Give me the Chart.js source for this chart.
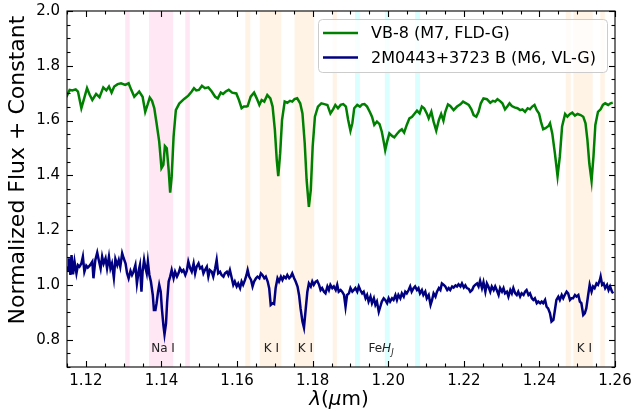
<!DOCTYPE html>
<html>
<head>
<meta charset="utf-8">
<script src="https://cdn.jsdelivr.net/npm/chart.js@4"></script>
<style>
  html, body { margin: 0; padding: 0; background: #fff; }
</style>
</head>
<body>
<canvas id="spec" width="636" height="414"></canvas>
<script>
// VB-8 (field dwarf) spectrum, offset by +0.6
const vb8Wave = [
  1.1148, 1.1157, 1.1164, 1.1173, 1.1179, 1.1188, 1.1196, 1.1203, 1.1210, 1.1217,
  1.1227, 1.1236, 1.1246, 1.1254, 1.1261, 1.1268, 1.1275, 1.1284, 1.1293, 1.1304,
  1.1313, 1.1320, 1.1328, 1.1335, 1.1341, 1.1350, 1.1357, 1.1363, 1.1369, 1.1375,
  1.1381, 1.1387, 1.1394, 1.1400, 1.1405, 1.1409, 1.1414, 1.1419, 1.1423, 1.1427,
  1.1432, 1.1438, 1.1447, 1.1460, 1.1471, 1.1480, 1.1486, 1.1492, 1.1499, 1.1507,
  1.1515, 1.1524, 1.1533, 1.1542, 1.1549, 1.1557, 1.1563, 1.1570, 1.1578, 1.1587,
  1.1598, 1.1605, 1.1612, 1.1618, 1.1625, 1.1628, 1.1636, 1.1645, 1.1652, 1.1659,
  1.1665, 1.1672, 1.1680, 1.1688, 1.1694, 1.1700, 1.1705, 1.1709, 1.1714, 1.1719,
  1.1726, 1.1733, 1.1740, 1.1746, 1.1752, 1.1759, 1.1767, 1.1773, 1.1779, 1.1784,
  1.1790, 1.1795, 1.1800, 1.1806, 1.1814, 1.1823, 1.1831, 1.1839, 1.1847, 1.1854,
  1.1860, 1.1867, 1.1874, 1.1881, 1.1888, 1.1894, 1.1900, 1.1905, 1.1910, 1.1918,
  1.1925, 1.1931, 1.1937, 1.1944, 1.1951, 1.1957, 1.1963, 1.1970, 1.1977, 1.1983,
  1.1988, 1.1992, 1.1997, 1.2003, 1.2010, 1.2016, 1.2023, 1.2030, 1.2036, 1.2042,
  1.2049, 1.2056, 1.2063, 1.2070, 1.2076, 1.2083, 1.2089, 1.2095, 1.2102, 1.2107,
  1.2114, 1.2120, 1.2127, 1.2134, 1.2140, 1.2146, 1.2151, 1.2158, 1.2164, 1.2173,
  1.2182, 1.2191, 1.2198, 1.2206, 1.2213, 1.2220, 1.2226, 1.2233, 1.2239, 1.2245,
  1.2252, 1.2261, 1.2270, 1.2277, 1.2283, 1.2289, 1.2296, 1.2302, 1.2309, 1.2315,
  1.2321, 1.2327, 1.2334, 1.2342, 1.2349, 1.2355, 1.2362, 1.2369, 1.2375, 1.2381,
  1.2387, 1.2393, 1.2399, 1.2404, 1.2410, 1.2416, 1.2424, 1.2428, 1.2434, 1.2441,
  1.2448, 1.2454, 1.2460, 1.2468, 1.2474, 1.2481, 1.2487, 1.2494, 1.2501, 1.2509,
  1.2516, 1.2522, 1.2527, 1.2532, 1.2538, 1.2543, 1.2548, 1.2555, 1.2562, 1.2568,
  1.2574, 1.2582, 1.2588, 1.2594
];
const vb8Flux = [
  1.685, 1.712, 1.710, 1.714, 1.706, 1.645, 1.684, 1.718, 1.694, 1.675,
  1.697, 1.685, 1.721, 1.710, 1.724, 1.702, 1.724, 1.733, 1.736, 1.730,
  1.736, 1.712, 1.687, 1.697, 1.706, 1.687, 1.632, 1.657, 1.684, 1.672,
  1.645, 1.590, 1.523, 1.426, 1.438, 1.507, 1.499, 1.419, 1.337, 1.395,
  1.541, 1.638, 1.662, 1.679, 1.691, 1.706, 1.718, 1.710, 1.712, 1.727,
  1.718, 1.721, 1.706, 1.687, 1.681, 1.702, 1.697, 1.706, 1.712, 1.702,
  1.699, 1.675, 1.645, 1.651, 1.651, 1.653, 1.687, 1.702, 1.681, 1.657,
  1.675, 1.669, 1.693, 1.681, 1.651, 1.566, 1.456, 1.397, 1.480, 1.602,
  1.669, 1.665, 1.672, 1.669, 1.678, 1.681, 1.663, 1.626, 1.517, 1.383,
  1.285, 1.346, 1.504, 1.614, 1.651, 1.663, 1.660, 1.657, 1.626, 1.641,
  1.657, 1.645, 1.657, 1.660, 1.651, 1.602, 1.563, 1.590, 1.645, 1.657,
  1.651, 1.659, 1.660, 1.651, 1.632, 1.614, 1.584, 1.596, 1.587, 1.559,
  1.523, 1.492, 1.523, 1.553, 1.544, 1.539, 1.551, 1.562, 1.568, 1.556,
  1.584, 1.608, 1.614, 1.626, 1.636, 1.626, 1.651, 1.645, 1.626, 1.608,
  1.632, 1.596, 1.563, 1.602, 1.624, 1.599, 1.632, 1.659, 1.653, 1.638,
  1.651, 1.659, 1.669, 1.663, 1.657, 1.641, 1.620, 1.614, 1.632, 1.663,
  1.681, 1.678, 1.665, 1.672, 1.669, 1.678, 1.671, 1.663, 1.641, 1.651,
  1.663, 1.653, 1.648, 1.645, 1.638, 1.641, 1.632, 1.645, 1.641, 1.651,
  1.657, 1.638, 1.626, 1.596, 1.568, 1.572, 1.580, 1.590, 1.553, 1.480,
  1.397, 1.468, 1.578, 1.624, 1.614, 1.624, 1.629, 1.618, 1.624, 1.620,
  1.614, 1.590, 1.529, 1.444, 1.380, 1.468, 1.584, 1.632, 1.641, 1.657,
  1.663, 1.657, 1.663, 1.665
];

// 2M0443+3723 B (young, low gravity) spectrum
const m0443Wave = [
  1.1148, 1.1153, 1.1155, 1.1159, 1.1162, 1.1166, 1.1170, 1.1175, 1.1179, 1.1183,
  1.1188, 1.1192, 1.1196, 1.1201, 1.1205, 1.1211, 1.1217, 1.1220, 1.1225, 1.1230,
  1.1234, 1.1239, 1.1243, 1.1247, 1.1252, 1.1256, 1.1261, 1.1265, 1.1269, 1.1274,
  1.1278, 1.1283, 1.1287, 1.1291, 1.1296, 1.1300, 1.1305, 1.1309, 1.1313, 1.1318,
  1.1322, 1.1326, 1.1331, 1.1335, 1.1340, 1.1343, 1.1347, 1.1350, 1.1354, 1.1357,
  1.1361, 1.1364, 1.1368, 1.1372, 1.1377, 1.1380, 1.1384, 1.1387, 1.1391, 1.1394,
  1.1398, 1.1401, 1.1405, 1.1408, 1.1412, 1.1415, 1.1419, 1.1423, 1.1427, 1.1432,
  1.1436, 1.1441, 1.1445, 1.1449, 1.1454, 1.1458, 1.1463, 1.1467, 1.1471, 1.1476,
  1.1480, 1.1485, 1.1489, 1.1493, 1.1498, 1.1502, 1.1507, 1.1511, 1.1515, 1.1520,
  1.1524, 1.1528, 1.1533, 1.1537, 1.1542, 1.1546, 1.1550, 1.1555, 1.1559, 1.1564,
  1.1568, 1.1573, 1.1577, 1.1581, 1.1586, 1.1590, 1.1594, 1.1599, 1.1603, 1.1608,
  1.1612, 1.1616, 1.1621, 1.1625, 1.1628, 1.1632, 1.1637, 1.1641, 1.1645, 1.1650,
  1.1654, 1.1659, 1.1663, 1.1667, 1.1672, 1.1676, 1.1681, 1.1685, 1.1689, 1.1694,
  1.1698, 1.1702, 1.1707, 1.1711, 1.1716, 1.1720, 1.1724, 1.1729, 1.1733, 1.1738,
  1.1742, 1.1746, 1.1751, 1.1755, 1.1760, 1.1764, 1.1768, 1.1773, 1.1777, 1.1781,
  1.1786, 1.1790, 1.1795, 1.1799, 1.1803, 1.1808, 1.1812, 1.1817, 1.1821, 1.1825,
  1.1830, 1.1834, 1.1839, 1.1843, 1.1847, 1.1852, 1.1856, 1.1861, 1.1865, 1.1869,
  1.1874, 1.1878, 1.1883, 1.1887, 1.1891, 1.1896, 1.1900, 1.1905, 1.1909, 1.1913,
  1.1918, 1.1922, 1.1926, 1.1931, 1.1935, 1.1940, 1.1944, 1.1948, 1.1953, 1.1957,
  1.1962, 1.1966, 1.1970, 1.1975, 1.1979, 1.1983, 1.1988, 1.1992, 1.1997, 1.2001,
  1.2005, 1.2010, 1.2014, 1.2019, 1.2023, 1.2027, 1.2032, 1.2036, 1.2041, 1.2045,
  1.2049, 1.2054, 1.2058, 1.2062, 1.2067, 1.2071, 1.2076, 1.2080, 1.2084, 1.2089,
  1.2093, 1.2098, 1.2102, 1.2107, 1.2112, 1.2116, 1.2120, 1.2125, 1.2129, 1.2134,
  1.2138, 1.2142, 1.2147, 1.2151, 1.2156, 1.2160, 1.2164, 1.2169, 1.2173, 1.2178,
  1.2182, 1.2186, 1.2191, 1.2195, 1.2200, 1.2204, 1.2208, 1.2213, 1.2217, 1.2222,
  1.2226, 1.2230, 1.2235, 1.2239, 1.2243, 1.2248, 1.2252, 1.2257, 1.2261, 1.2265,
  1.2270, 1.2274, 1.2279, 1.2283, 1.2287, 1.2292, 1.2296, 1.2301, 1.2305, 1.2309,
  1.2314, 1.2318, 1.2323, 1.2327, 1.2331, 1.2336, 1.2340, 1.2344, 1.2349, 1.2353,
  1.2358, 1.2362, 1.2366, 1.2371, 1.2375, 1.2380, 1.2384, 1.2388, 1.2393, 1.2397,
  1.2402, 1.2406, 1.2410, 1.2415, 1.2419, 1.2423, 1.2428, 1.2432, 1.2437, 1.2441,
  1.2445, 1.2450, 1.2454, 1.2459, 1.2463, 1.2467, 1.2472, 1.2476, 1.2481, 1.2485,
  1.2489, 1.2494, 1.2498, 1.2503, 1.2507, 1.2511, 1.2516, 1.2520, 1.2524, 1.2529,
  1.2533, 1.2538, 1.2542, 1.2546, 1.2551, 1.2555, 1.2560, 1.2562, 1.2566, 1.2570,
  1.2574, 1.2579, 1.2583, 1.2587, 1.2592, 1.2595
];
const m0443Flux = [
  1.066, 1.054, 1.097, 1.036, 1.109, 1.038, 1.085, 1.042, 1.072, 1.066,
  1.078, 1.103, 1.048, 1.070, 1.063, 1.072, 1.085, 1.024, 1.091, 1.118,
  1.091, 1.060, 1.103, 1.078, 1.097, 1.060, 1.103, 1.060, 1.078, 1.026,
  1.094, 1.072, 1.091, 1.066, 1.115, 1.097, 1.078, 1.042, 1.024, 1.051,
  1.036, 1.048, 1.072, 1.005, 1.054, 1.072, 0.975, 1.048, 1.091, 1.066,
  1.042, 1.085, 1.036, 1.012, 0.963, 0.908, 0.908, 0.933, 0.975, 1.000,
  0.975, 0.914, 0.853, 0.819, 0.859, 0.939, 1.012, 1.030, 1.054, 1.024,
  1.048, 1.030, 1.042, 1.060, 1.048, 1.054, 1.036, 1.051, 1.085, 1.060,
  1.048, 1.078, 1.042, 1.066, 1.078, 1.060, 1.066, 1.042, 1.054, 1.066,
  1.030, 1.054, 1.048, 1.030, 1.060, 1.091, 1.042, 1.048, 1.036, 1.030,
  1.042, 1.048, 1.036, 1.054, 1.024, 1.000, 1.012, 0.994, 1.005, 0.988,
  1.012, 1.000, 1.018, 1.036, 1.054, 1.030, 1.018, 0.994, 1.012, 1.024,
  1.030, 1.024, 1.042, 1.036, 1.024, 1.030, 1.012, 0.988, 0.927, 0.933,
  0.930, 0.988, 1.024, 1.012, 1.030, 1.018, 1.030, 1.024, 1.036, 1.024,
  1.030, 1.042, 1.024, 1.012, 0.994, 0.963, 0.914, 0.866, 0.844, 0.902,
  0.975, 1.005, 0.994, 1.012, 1.000, 1.012, 1.015, 1.000, 0.981, 0.988,
  0.975, 0.969, 0.994, 0.981, 1.000, 0.988, 0.994, 0.981, 1.000, 0.975,
  0.981, 0.975, 0.963, 0.920, 0.963, 0.969, 0.988, 0.975, 0.981, 0.988,
  0.975, 0.994, 0.981, 0.969, 0.975, 0.951, 0.963, 0.939, 0.957, 0.933,
  0.951, 0.927, 0.939, 0.902, 0.920, 0.939, 0.951, 0.945, 0.933, 0.951,
  0.939, 0.951, 0.945, 0.963, 0.945, 0.963, 0.951, 0.969, 0.957, 0.975,
  0.969, 0.981, 0.994, 0.975, 0.988, 0.994, 0.981, 0.988, 0.969, 0.981,
  0.963, 0.975, 0.951, 0.963, 0.927, 0.945, 0.969, 0.957, 0.975, 0.988,
  0.981, 1.005, 1.000, 0.994, 0.981, 0.988, 0.981, 0.994, 0.990, 0.998,
  0.994, 1.002, 0.994, 1.005, 0.990, 0.998, 0.988, 0.985, 0.975, 0.981,
  0.994, 1.000, 1.005, 0.994, 1.015, 0.988, 1.010, 0.975, 1.005, 0.994,
  0.975, 0.994, 0.981, 0.994, 0.981, 0.963, 0.988, 0.975, 0.988, 0.969,
  0.975, 0.957, 0.981, 0.969, 0.988, 0.969, 0.963, 0.975, 0.957, 0.969,
  0.963, 0.975, 0.981, 0.963, 0.969, 0.951, 0.945, 0.951, 0.933, 0.939,
  0.933, 0.939, 0.933, 0.945, 0.920, 0.914, 0.896, 0.866, 0.872, 0.908,
  0.945, 0.957, 0.945, 0.963, 0.951, 0.963, 0.975, 0.969, 0.945, 0.951,
  0.951, 0.963, 0.957, 0.963, 0.939, 0.933, 0.890, 0.896, 0.914, 0.963,
  1.000, 0.975, 0.994, 0.988, 1.005, 1.000, 1.018, 1.030, 1.000, 1.005,
  0.988, 1.000, 0.981, 0.994, 0.975, 0.969
];

// shaded feature windows (start, end) in micron
const naBands = [[1.1304, 1.1316], [1.1367, 1.1431], [1.1463, 1.1475]];
const kBands = [[1.1622, 1.1635], [1.1660, 1.1717], [1.1752, 1.1804], [1.1853, 1.1864],
                [1.2470, 1.2483], [1.2490, 1.2541], [1.2561, 1.2573]];
const fehBands = [[1.1912, 1.1925], [1.1991, 1.2004], [1.2071, 1.2084]];

// feature names and where they sit on the wavelength axis
const featureNames = ['Na I', 'K I', 'K I', 'FeH', 'K I'];
const featureWave = [1.1404, 1.1691, 1.1781, 1.1981, 1.2519];
const featureLevel = 0.766;

const seriesNames = ['VB-8 (M7, FLD-G)', '2M0443+3723 B (M6, VL-G)'];
const xTickValues = [1.12, 1.14, 1.16, 1.18, 1.20, 1.22, 1.24, 1.26];
const xTickLabels = ['1.12', '1.14', '1.16', '1.18', '1.20', '1.22', '1.24', '1.26'];
const yTickValues = [0.8, 1.0, 1.2, 1.4, 1.6, 1.8, 2.0];
const yTickLabels = ['0.8', '1.0', '1.2', '1.4', '1.6', '1.8', '2.0'];

const FONT = "'DejaVu Sans', sans-serif";

const toPoints = (xs, ys) => xs.map((v, i) => ({ x: v, y: ys[i] }));

const spectrumDecor = {
    id: 'spectrumDecor',
    beforeDatasetsDraw(chart) {
        const { ctx, chartArea: a, scales: { x, y } } = chart;
        ctx.save();
        const shade = (bands, color) => {
            ctx.fillStyle = color;
            bands.forEach(([lo, hi]) => {
                const x0 = x.getPixelForValue(lo), x1 = x.getPixelForValue(hi);
                ctx.fillRect(x0, a.top, x1 - x0, a.bottom - a.top);
            });
        };
        shade(naBands, 'rgba(255, 20, 147, 0.1)');
        shade(kBands, 'rgba(255, 140, 0, 0.1)');
        shade(fehBands, 'rgba(0, 255, 255, 0.15)');

        // feature labels
        ctx.fillStyle = '#222';
        ctx.textBaseline = 'middle';
        const ly = y.getPixelForValue(featureLevel);
        featureNames.forEach((name, i) => {
            const cx = x.getPixelForValue(featureWave[i]);
            if (name === 'FeH') {
                // Fe + italic H with subscript J
                ctx.font = '12px ' + FONT;
                const wFe = ctx.measureText('Fe').width;
                ctx.font = 'italic 12px ' + FONT;
                const wH = ctx.measureText('H').width;
                ctx.font = 'italic 8.5px ' + FONT;
                const wJ = ctx.measureText('J').width;
                let px = cx - (wFe + wH + wJ) / 2;
                ctx.textAlign = 'left';
                ctx.font = '12px ' + FONT;
                ctx.fillText('Fe', px, ly);
                px += wFe;
                ctx.font = 'italic 12px ' + FONT;
                ctx.fillText('H', px, ly);
                px += wH;
                ctx.font = 'italic 8.5px ' + FONT;
                ctx.fillText('J', px, ly + 4);
            } else {
                ctx.font = '12px ' + FONT;
                ctx.textAlign = 'center';
                ctx.fillText(name, cx, ly);
            }
        });
        ctx.restore();
    },
    afterDraw(chart) {
        const { ctx, chartArea: a, scales: { x, y } } = chart;
        ctx.save();
        ctx.strokeStyle = '#000';
        ctx.lineWidth = 1.1;

        // inward ticks on all four sides
        const tick = (x0, y0, x1, y1) => {
            ctx.beginPath();
            ctx.moveTo(x0, y0);
            ctx.lineTo(x1, y1);
            ctx.stroke();
        };
        for (let k = 0; k <= 29; k++) {
            const v = 1.115 + k * 0.005;
            const major = xTickValues.some(t => Math.abs(t - v) < 1e-6);
            const len = major ? 6 : 3.5;
            const px = Math.round(x.getPixelForValue(v)) + 0.5;
            tick(px, a.bottom, px, a.bottom - len);
            tick(px, a.top, px, a.top + len);
        }
        for (let k = 0; k <= 26; k++) {
            const v = 0.7 + k * 0.05;
            const major = yTickValues.some(t => Math.abs(t - v) < 1e-6);
            const len = major ? 6 : 3.5;
            const py = Math.round(y.getPixelForValue(v)) + 0.5;
            tick(a.left, py, a.left + len, py);
            tick(a.right, py, a.right - len, py);
        }
        ctx.strokeRect(a.left, a.top, a.right - a.left, a.bottom - a.top);

        // tick labels
        ctx.fillStyle = '#000';
        ctx.font = '15px ' + FONT;
        ctx.textBaseline = 'middle';
        ctx.textAlign = 'center';
        xTickValues.forEach((v, i) => {
            ctx.fillText(xTickLabels[i], x.getPixelForValue(v), a.bottom + 14);
        });
        ctx.textAlign = 'right';
        yTickValues.forEach((v, i) => {
            ctx.fillText(yTickLabels[i], a.left - 7, y.getPixelForValue(v));
        });

        // legend
        const lx = 318.5, ly = 19.5, lw = 289, lh = 53;
        ctx.beginPath();
        ctx.roundRect(lx, ly, lw, lh, 4);
        ctx.fillStyle = 'rgba(255, 255, 255, 0.8)';
        ctx.fill();
        ctx.strokeStyle = '#cccccc';
        ctx.lineWidth = 1;
        ctx.stroke();
        ctx.font = '16px ' + FONT;
        ctx.textAlign = 'left';
        ctx.textBaseline = 'middle';
        chart.data.datasets.forEach((ds, i) => {
            const ry = 33 + i * 24.5;
            ctx.strokeStyle = ds.borderColor;
            ctx.lineWidth = 2.5;
            ctx.beginPath();
            ctx.moveTo(323, ry);
            ctx.lineTo(358, ry);
            ctx.stroke();
            ctx.fillStyle = '#000';
            ctx.fillText(ds.label, 371, ry + 1);
        });

        // axis titles
        ctx.fillStyle = '#000';
        ctx.save();
        ctx.translate(18, 170);
        ctx.rotate(-Math.PI / 2);
        ctx.font = '22px ' + FONT;
        ctx.textAlign = 'center';
        ctx.fillText('Normalized Flux + Constant', 0, 0);
        ctx.restore();

        const parts = [['λ', true], ['(', false], ['μ', true], ['m)', false]];
        let total = 0;
        parts.forEach(([t, it]) => {
            ctx.font = (it ? 'italic ' : '') + '20px ' + FONT;
            total += ctx.measureText(t).width;
        });
        let px = 339 - total / 2;
        ctx.textAlign = 'left';
        parts.forEach(([t, it]) => {
            ctx.font = (it ? 'italic ' : '') + '20px ' + FONT;
            ctx.fillText(t, px, 400);
            px += ctx.measureText(t).width;
        });
        ctx.restore();
    }
};

new Chart(document.getElementById('spec'), {
    type: 'line',
    data: {
        datasets: [
            {
                label: seriesNames[0],
                data: toPoints(vb8Wave, vb8Flux),
                borderColor: 'green',
                borderWidth: 2.5,
                pointRadius: 0,
                tension: 0
            },
            {
                label: seriesNames[1],
                data: toPoints(m0443Wave, m0443Flux),
                borderColor: 'navy',
                borderWidth: 2.5,
                pointRadius: 0,
                tension: 0
            }
        ]
    },
    options: {
        responsive: false,
        animation: false,
        devicePixelRatio: 1,
        layout: { padding: { top: 11, right: 21, left: 0, bottom: 0 } },
        plugins: {
            legend: { display: false },
            tooltip: { enabled: false }
        },
        scales: {
            x: {
                type: 'linear',
                min: 1.115,
                max: 1.26,
                grid: { display: false, drawTicks: false },
                border: { display: false },
                ticks: { display: false },
                afterFit: s => { s.height = 47; }
            },
            y: {
                type: 'linear',
                min: 0.7,
                max: 2.0,
                grid: { display: false, drawTicks: false },
                border: { display: false },
                ticks: { display: false },
                afterFit: s => { s.width = 67; }
            }
        }
    },
    plugins: [spectrumDecor]
});
</script>
</body>
</html>
